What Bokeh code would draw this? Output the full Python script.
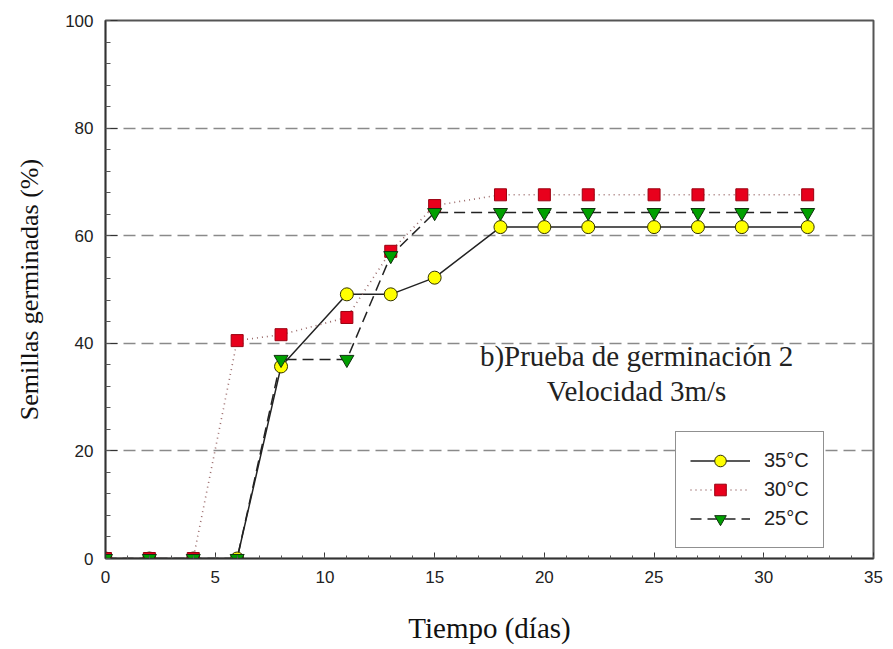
from bokeh.plotting import figure
from bokeh.models import Range1d, SingleIntervalTicker, Label, Legend, LegendItem
from bokeh.embed import file_html
from bokeh.resources import INLINE

# ---- data ----
days = [0, 2, 4, 6, 8, 11, 13, 15, 18, 20, 22, 25, 27, 29, 32]
germ_35 = [0, 0, 0, 0, 35.7, 49.1, 49.1, 52.2, 61.6, 61.6, 61.6, 61.6, 61.6, 61.6, 61.6]
germ_30 = [0, 0, 0, 40.5, 41.6, 44.8, 57.1, 65.6, 67.6, 67.6, 67.6, 67.6, 67.6, 67.6, 67.6]
germ_25 = [0, 0, 0, 0, 37.0, 37.0, 56.3, 64.3, 64.3, 64.3, 64.3, 64.3, 64.3, 64.3, 64.3]
series_labels = ["35°C", "30°C", "25°C"]
x_label = "Tiempo (días)"
y_label = "Semillas germinadas (%)"
note_1 = "b)Prueba de germinación 2"
note_2 = "Velocidad 3m/s"

W, H = 885, 649
p = figure(width=W, height=H, output_backend="svg", toolbar_location=None,
           x_range=Range1d(0, 35), y_range=Range1d(0, 100),
           min_border_left=105, min_border_right=12, min_border_top=20, min_border_bottom=91)
p.background_fill_color = "white"
p.border_fill_color = "white"
p.outline_line_color = "#555555"
p.outline_line_width = 2

# grids
p.xgrid.visible = False
p.ygrid.grid_line_color = "#8a8a8a"
p.ygrid.grid_line_dash = "12 6"
p.ygrid.grid_line_width = 1.3

# axes
p.xaxis.ticker = SingleIntervalTicker(interval=5, num_minor_ticks=5)
p.yaxis.ticker = SingleIntervalTicker(interval=20, num_minor_ticks=5)
for ax in (p.xaxis[0], p.yaxis[0]):
    ax.axis_line_color = "#333333"
    ax.axis_line_width = 1.5
    ax.major_tick_out = 0
    ax.minor_tick_out = 0
    ax.major_tick_line_color = "#333333"
    ax.minor_tick_line_color = "#555555"
    ax.major_label_text_font = "Liberation Sans"
    ax.major_label_text_font_size = "17px"
    ax.major_label_text_color = "#222222"
    ax.axis_label_text_font = "Liberation Serif"
    ax.axis_label_text_font_style = "normal"
    ax.axis_label_text_color = "#111111"
    ax.major_label_standoff = 12
p.xaxis.major_tick_in = 6
p.xaxis.minor_tick_in = 3
p.yaxis.major_tick_in = 12
p.yaxis.minor_tick_in = 5
p.xaxis.axis_label = x_label
p.yaxis.axis_label = y_label
p.xaxis.axis_label_text_font_size = "29px"
p.yaxis.axis_label_text_font_size = "26px"
p.xaxis.axis_label_standoff = 26
p.yaxis.axis_label_standoff = 18

# series
l35 = p.line(days, germ_35, line_color="#222222", line_width=1.5)
l30 = p.line(days, germ_30, line_color="#9a6a6a", line_width=1.6, line_dash="1 4")
l25 = p.line(days, germ_25, line_color="#222222", line_width=1.5, line_dash="11 6")
s35 = p.scatter(days, germ_35, marker="circle", size=13, fill_color="#ffff00",
                line_color="#333300", line_width=1)
s30 = p.scatter(days, germ_30, marker="square", size=12, fill_color="#e8001c",
                line_color="#9a0010", line_width=1)
s25 = p.scatter(days, germ_25, marker="inverted_triangle", size=14, fill_color="#00a000",
                line_color="#103010", line_width=1)

legend = Legend(items=[LegendItem(label=series_labels[0], renderers=[l35, s35]),
                       LegendItem(label=series_labels[1], renderers=[l30, s30]),
                       LegendItem(label=series_labels[2], renderers=[l25, s25])],
                location=(570, 10))
legend.border_line_color = "#222222"
legend.border_line_width = 1.5
legend.background_fill_color = "white"
legend.background_fill_alpha = 1
legend.padding = 14
legend.spacing = 0
legend.margin = 0
legend.glyph_width = 60
legend.glyph_height = 29
legend.label_height = 29
legend.label_standoff = 14
legend.label_text_font = "Liberation Sans"
legend.label_text_font_size = "20px"
legend.label_text_color = "#222222"
p.add_layout(legend)

p.add_layout(Label(x=24.2, y=37.7, text=note_1, text_align="center", text_baseline="middle",
                   text_font="Liberation Serif", text_font_size="29px", text_color="#222222"))
p.add_layout(Label(x=24.2, y=31.2, text=note_2, text_align="center", text_baseline="middle",
                   text_font="Liberation Serif", text_font_size="29px", text_color="#222222"))

open("out.html", "w").write(file_html(p, INLINE))
